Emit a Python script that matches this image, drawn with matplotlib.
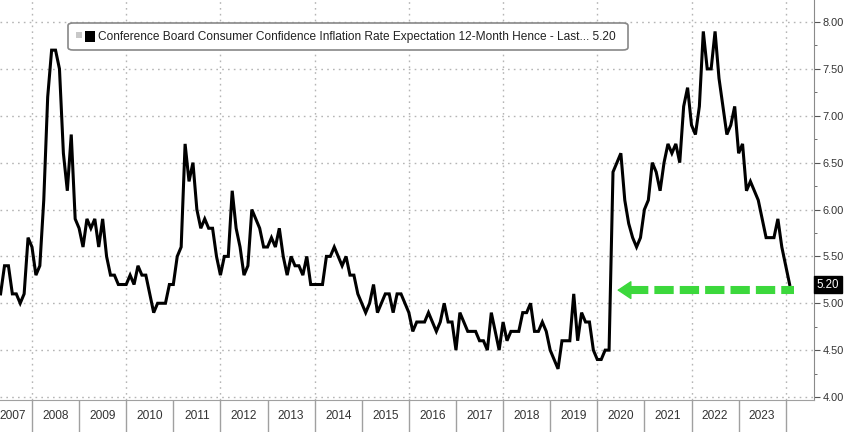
import numpy as np
import matplotlib
matplotlib.use('Agg')
import matplotlib.pyplot as plt
from matplotlib.patches import FancyBboxPatch, Rectangle
from matplotlib.ticker import MultipleLocator, FormatStrFormatter

plt.rcParams['font.family'] = ['Liberation Sans', 'DejaVu Sans']

# Conference Board consumer confidence, 12-month inflation expectation (%)
# monthly readings, series starts May 2007
first_year, first_month = 2007, 5
v2007 = [5.1, 5.4, 5.4, 5.1, 5.1, 5.0, 5.1, 5.7]
v2008 = [5.6, 5.3, 5.4, 6.1, 7.2, 7.7, 7.7, 7.5, 6.6, 6.2, 6.8, 5.9]
v2009 = [5.8, 5.6, 5.9, 5.8, 5.9, 5.6, 5.9, 5.5, 5.3, 5.3, 5.2, 5.2]
v2010 = [5.2, 5.3, 5.2, 5.4, 5.3, 5.3, 5.1, 4.9, 5.0, 5.0, 5.0, 5.2]
v2011 = [5.2, 5.5, 5.6, 6.7, 6.3, 6.5, 6.0, 5.8, 5.9, 5.8, 5.8, 5.5]
v2012 = [5.3, 5.5, 5.5, 6.2, 5.8, 5.6, 5.3, 5.4, 6.0, 5.9, 5.8, 5.6]
v2013 = [5.6, 5.7, 5.6, 5.8, 5.5, 5.3, 5.5, 5.4, 5.4, 5.3, 5.5, 5.2]
v2014 = [5.2, 5.2, 5.2, 5.5, 5.5, 5.6, 5.5, 5.4, 5.5, 5.3, 5.3, 5.1]
v2015 = [5.0, 4.9, 5.0, 5.2, 4.9, 5.0, 5.1, 5.1, 4.9, 5.1, 5.1, 5.0]
v2016 = [4.9, 4.7, 4.8, 4.8, 4.8, 4.9, 4.8, 4.7, 4.8, 5.0, 4.8, 4.8]
v2017 = [4.5, 4.9, 4.8, 4.7, 4.7, 4.7, 4.6, 4.6, 4.5, 4.9, 4.7, 4.5]
v2018 = [4.8, 4.6, 4.7, 4.7, 4.7, 4.9, 4.9, 5.0, 4.7, 4.7, 4.8, 4.7]
v2019 = [4.5, 4.4, 4.3, 4.6, 4.6, 4.6, 5.1, 4.6, 4.9, 4.8, 4.8, 4.5]
v2020 = [4.4, 4.4, 4.5, 4.5, 6.4, 6.5, 6.6, 6.1, 5.85, 5.7, 5.6, 5.7]
v2021 = [6.0, 6.1, 6.5, 6.4, 6.2, 6.5, 6.7, 6.6, 6.7, 6.5, 7.1, 7.3]
v2022 = [6.9, 6.8, 7.1, 7.9, 7.5, 7.5, 7.9, 7.4, 7.1, 6.8, 6.9, 7.1]
v2023 = [6.6, 6.7, 6.2, 6.3, 6.2, 6.1, 5.9, 5.7, 5.7, 5.7, 5.9, 5.6]
v2024 = [5.4, 5.2]

values = (v2007 + v2008 + v2009 + v2010 + v2011 + v2012 + v2013 + v2014 + v2015
          + v2016 + v2017 + v2018 + v2019 + v2020 + v2021 + v2022 + v2023 + v2024)
years = first_year + (first_month - 1) / 12 + np.arange(len(values)) / 12

label_years = list(range(2007, 2024))
last_value = values[-1]
legend_text = ('Conference Board Consumer Confidence Inflation Rate Expectation '
               '12-Month Hence - Last... %.2f' % last_value)

# green pointer
arrow_y = 5.14
arrow_tip = 2020.42
arrow_end = 2024.18
green = '#3cd83c'

fig = plt.figure(figsize=(8.48, 4.32), dpi=100)
ax = fig.add_axes([0, 32 / 432, 814 / 848, 400 / 432])

ax.plot(years, values, color='black', lw=2.2, solid_joinstyle='miter', zorder=3)

# grid
for yr in range(2008, 2025, 2):
    ax.axvline(yr, color='#b5b5b5', lw=1.0, ls=(0, (1.2, 3)), zorder=1)
for lev in np.arange(4.0, 8.01, 0.5):
    ax.axhline(lev, color='#b5b5b5', lw=1.0, ls=(0, (1.2, 3)), zorder=1)

# spines
for s in ['top', 'left']:
    ax.spines[s].set_visible(False)
ax.spines['right'].set_color('#8a8a8a')
ax.spines['bottom'].set_color('#a0a0a0')

# y axis on the right
ax.yaxis.tick_right()
ax.yaxis.set_major_locator(MultipleLocator(0.5))
ax.yaxis.set_minor_locator(MultipleLocator(0.25))
ax.yaxis.set_major_formatter(FormatStrFormatter('%.2f'))
ax.tick_params(axis='y', which='major', length=4, color='#555555', labelsize=7.9,
               labelcolor='#333333', pad=2)
ax.tick_params(axis='y', which='minor', length=2, color='#555555')

# x axis: separators at each year, labels mid-year
ax.set_xticks(range(2007, 2025))
ax.set_xticklabels([])
label_pos = [y + 0.5 for y in label_years]
label_pos[0] = 2007.6
ax.set_xticks(label_pos, minor=True)
ax.set_xticklabels([str(y) for y in label_years], minor=True)
ax.tick_params(axis='x', which='major', length=23, color='#a0a0a0', width=1)
ax.tick_params(axis='x', which='minor', length=0, labelsize=8.6, labelcolor='#333333', pad=7)

ax.set_xlim(2007.321, 2024.6)
ax.set_ylim(3.968, 8.235)

# last value tag
ax.annotate('%.2f' % last_value, xy=(1, last_value), xycoords=('axes fraction', 'data'),
            xytext=(2, 0), textcoords='offset points', ha='left', va='center',
            color='white', fontsize=8.3,
            bbox=dict(boxstyle='square,pad=0.22', fc='black', ec='black'))

# green dashed pointer
head_base = arrow_tip + 0.25
ax.plot([head_base, arrow_end], [arrow_y, arrow_y], color=green, lw=5.8,
        dashes=(2.4, 0.75), solid_capstyle='butt', zorder=4)
ax.annotate('', xy=(arrow_tip, arrow_y), xytext=(head_base + 0.05, arrow_y),
            arrowprops=dict(arrowstyle='-|>,head_length=0.45,head_width=0.3',
                            mutation_scale=20, color=green, lw=1,
                            shrinkA=0, shrinkB=0), zorder=4)

# legend box
W, H = 848, 432
box = FancyBboxPatch((68 / W, 1 - 50 / H), (628 - 68) / W, 27 / H,
                     boxstyle='round,pad=0,rounding_size=0.006',
                     transform=fig.transFigure, fc='white', ec='#888888', lw=1.2, zorder=5)
fig.add_artist(box)
fig.add_artist(Rectangle((76 / W, 1 - 38 / H), 6 / W, 6 / H, transform=fig.transFigure,
                         fc='#c8c8c8', ec='none', zorder=6))
fig.add_artist(Rectangle((85 / W, 1 - 42 / H), 10 / W, 11 / H, transform=fig.transFigure,
                         fc='black', ec='none', zorder=6))
fig.text(98 / W, 1 - 37 / H, legend_text, ha='left', va='center', fontsize=8.6,
         color='#222222', zorder=6)

fig.savefig('out.png', dpi=100)
